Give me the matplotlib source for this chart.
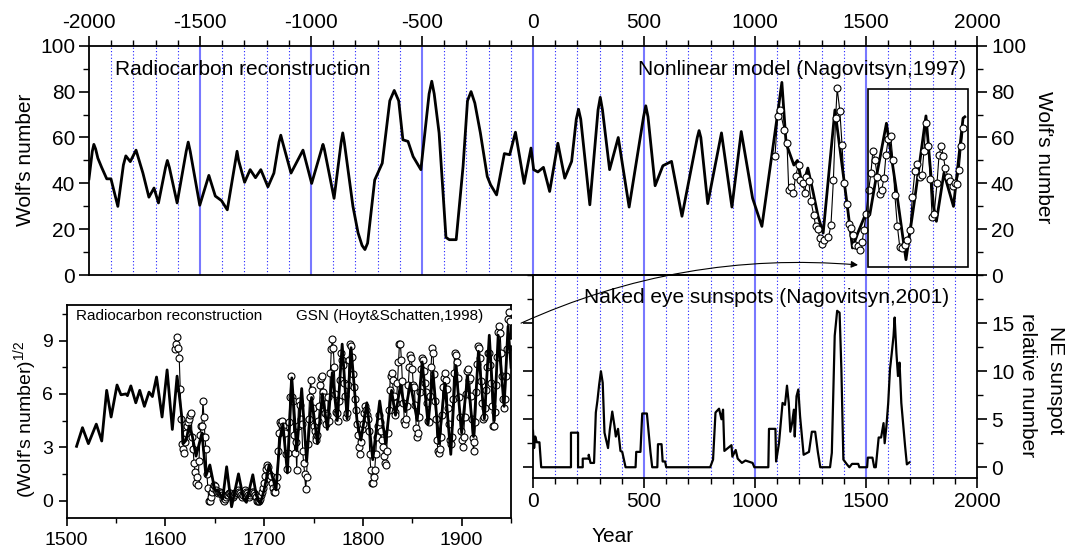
import matplotlib
matplotlib.use("Agg")
import matplotlib.pyplot as plt
from matplotlib.ticker import MultipleLocator
from matplotlib.patches import Rectangle, ConnectionPatch

plt.rcParams['font.family'] = ['Liberation Sans', 'DejaVu Sans']
plt.rcParams['mathtext.fontset'] = 'custom'
plt.rcParams['mathtext.rm'] = 'Liberation Sans'
plt.rcParams['axes.unicode_minus'] = False

# ---- top panel: radiocarbon reconstruction of Wolf's number
rc_years = [-2000, -1985, -1978, -1970, -1960, -1943, -1920, -1901, -1870, -1845, -1834, -1814, -1788,
            -1757, -1730, -1707, -1687, -1655, -1647, -1638, -1603, -1562, -1553, -1544, -1501, -1460, -1431,
            -1403, -1377, -1340, -1333, -1326, -1299, -1274, -1250, -1226, -1194, -1167, -1144, -1136, -1128,
            -1090, -1036, -997, -952, -946, -940, -896, -864, -857, -850, -811, -788, -770, -757, -745, -713,
            -679, -645, -625, -605, -586, -563, -540, -505, -468, -456, -445, -423, -392, -377,
            -346, -315, -295, -279, -262, -237, -206, -191, -164, -129, -105, -79,
            -40, -9, 3, 22, 47, 75, 112, 143, 174, 195, 205, 215,
            256, 293, 303, 313, 345, 384, 433, 498, 508, 518, 550, 585, 624, 671,
            740, 748, 756, 787, 849, 896, 938, 989, 1031, 1098, 1121, 1140,
            1175, 1191, 1214, 1238, 1261, 1284, 1307, 1360, 1416, 1439,
            1463, 1494, 1517, 1540, 1592, 1634, 1680, 1719, 1770, 1804,
            1817, 1851, 1894, 1937, 1945]
rc_wolf = [42, 54, 57, 55, 51, 47, 42, 42, 30, 48, 52, 49.5, 54.5,
           44.5, 34, 38, 31.5, 47, 50, 47, 31.5, 54, 58, 54, 30.5, 43.5, 34.5,
           32.5, 28.5, 50, 54, 50, 40.5, 46, 42.5, 46, 38.5, 44.5, 58, 61, 58,
           44.5, 54.5, 40, 55, 57, 55, 33.5, 58, 62, 58, 30, 18.5, 13, 11.2, 14, 41.5,
           48.8, 76, 80.5, 76, 59, 58.3, 51.7, 46, 79, 84.5, 79, 62, 16.5, 15.5,
           15.5, 47.4, 76, 80, 75, 62, 43, 39.4, 35, 53, 52.5, 62.3,
           40, 55.4, 46, 45, 47, 36.5, 57.5, 42.3, 49.6, 68, 72.3, 68,
           30.7, 72, 77.5, 72, 46, 60, 29.7, 69, 73.8, 69, 39, 47.7, 49.6, 25.7,
           60, 63, 60, 31.2, 62, 29.7, 62.6, 33.6, 21.3, 67.7, 84, 57.5,
           48, 50, 38.7, 46.7, 36.5, 25.7, 18.4, 72, 30, 11.9,
           18.4, 25.7, 26.4, 39.4, 66.2, 38.7, 6.8, 32.9, 69.4, 30,
           23.5, 44.5, 30, 68.4, 69]

# nonlinear model (Nagovitsyn, 1997)
nl_years = [1090, 1102, 1112, 1132, 1144, 1152, 1163, 1172, 1183, 1196,
            1203, 1214, 1225, 1231, 1242, 1252, 1264, 1273, 1283, 1292,
            1301, 1312, 1331, 1342, 1353, 1363, 1370, 1382, 1392, 1401,
            1413, 1424, 1432, 1441, 1450, 1463, 1474, 1482, 1491, 1500,
            1512, 1522, 1531, 1540, 1551, 1561, 1570, 1581, 1590, 1600,
            1611, 1621, 1630, 1641, 1652, 1661, 1675, 1686, 1698, 1709,
            1720, 1729, 1742, 1752, 1761, 1770, 1781, 1789, 1798, 1807,
            1820, 1829, 1839, 1848, 1857, 1869, 1879, 1890, 1899, 1908,
            1919, 1929, 1938]
nl_wolf = [52, 69.4, 72, 63.3, 57.8, 37, 38.4, 35.8, 43.3, 48.1,
           41.6, 40.4, 35.8, 43, 40.9, 32.2, 26.4, 21.3, 20.1, 16.2,
           13.8, 15.5, 16.7, 21.7, 41.3, 68.3, 81.4, 71.7, 56.8, 40.4,
           31.2, 22.5, 20.6, 17.7, 13, 12.6, 10.9, 14.3, 19.9, 26.7,
           37, 44.5, 54.3, 50.3, 43, 35.5, 37, 42.3, 52.5, 59.3,
           60.7, 50.3, 34.8, 21.6, 12.3, 11.9, 13.3, 15.5, 19.9, 34.3,
           45.2, 48.6, 43, 43.8, 54.2, 66.5, 56.5, 42, 25.4, 26.7,
           40.4, 52.5, 56.5, 52, 46.7, 43, 40.9, 39, 40, 39.9,
           45.7, 56.4, 64]

# ---- bottom right: naked eye sunspots (Nagovitsyn, 2001)
ne_years = [0, 5, 10, 17, 29, 37, 171, 171, 203, 203, 224, 224, 251, 251, 259, 275,
            283, 290, 298, 306, 314, 322, 338, 346, 357, 367, 373, 383, 394, 402,
            417, 462, 465, 484, 492, 513, 529, 537, 560, 563, 579, 584, 595, 600,
            798, 811, 822, 838, 849, 856, 862, 894, 898, 913, 922, 941, 957, 989,
            997, 1060, 1063, 1092, 1095, 1108, 1124, 1135, 1144, 1152, 1159, 1167,
            1175, 1179, 1187, 1195, 1203, 1219, 1243, 1256, 1271, 1283, 1294, 1338,
            1346, 1359, 1370, 1381, 1389, 1398, 1414, 1425, 1437, 1465, 1470, 1505,
            1508, 1529, 1537, 1544, 1557, 1568, 1579, 1584, 1592, 1600, 1608, 1616,
            1624, 1629, 1637, 1644, 1651, 1659, 1668, 1676, 1684, 1695]
ne_number = [3.8, 2, 3.2, 2.6, 2.6, 0, 0, 3.6, 3.6, 0, 0, 0.9, 0.9, 1.3, 0.45, 0.45,
             5.7, 6.9, 8.6, 10, 8.8, 3.6, 2, 3.9, 5.8, 4.3, 3.2, 4, 1.7, 1.6,
             0, 0, 1.6, 1.6, 5.6, 5.6, 1.6, 0, 0, 2.4, 2.4, 0.6, 0.6, 0,
             0, 0.8, 5.7, 6.1, 5, 6, 1.7, 2.3, 1.1, 1.8, 0.9, 0.45, 0.7, 0.45,
             0, 0, 4, 4, 0.6, 2.5, 6.7, 6.5, 8.5, 6.7, 3.7, 4.6,
             6, 3.2, 7.4, 8.1, 5.3, 1.3, 1.6, 3.7, 3.7, 1.6, 0, 0,
             1.5, 13.7, 16.3, 16.1, 10.2, 0.8, 0.3, 0, 0.35, 0.35, 0, 0,
             1, 1, 0, 0, 3.1, 3.1, 4.6, 2.5, 4.3, 6.7, 10.2, 11.9,
             13.7, 15.6, 11.9, 9.5, 10.9, 6.7, 4.3, 2.2, 0.3, 0.5]

# ---- inset: sqrt(Wolf's number), radiocarbon vs group sunspot number
rc_sq_years = [1510, 1516, 1522, 1530, 1535.5, 1540.5, 1545, 1551, 1555, 1560,
               1561.5, 1565, 1570, 1574, 1578.7, 1583.4, 1586.8, 1591, 1596.6, 1601.7,
               1607, 1611.8, 1616.6, 1618, 1621, 1624, 1627, 1631, 1637, 1641,
               1645, 1650, 1654, 1658, 1662, 1667, 1674, 1679, 1682, 1688.5,
               1692, 1696, 1700, 1705, 1709, 1712, 1716, 1719, 1723.5, 1728,
               1733, 1738, 1743, 1748, 1754, 1759, 1764, 1769, 1774, 1779,
               1784, 1788, 1794, 1798, 1804, 1810, 1817, 1823, 1829, 1833,
               1838, 1843, 1848, 1855, 1860, 1866, 1871, 1877, 1883, 1889,
               1894, 1900, 1906, 1912, 1917, 1923, 1928, 1933, 1937, 1943,
               1947, 1950]
rc_sq = [3.05, 4.1, 3.2, 4.3, 3.35, 6.2, 4.7, 6.5, 5.95, 6.0,
         5.9, 6.45, 5.5, 6.2, 5.3, 6.1, 5.85, 6.95, 4.7, 7.35,
         4.0, 7.0, 4.7, 3.2, 3.4, 4.2, 3.7, 2.5, 3.8, 1.4,
         2.0, 0.6, 0.5, 0.1, 1.9, -0.35, 1.5, 0.1, -0.1, 1.45,
         0.3, -0.2, 0.6, 2.0, 1.2, 0.6, 3.5, 4.3, 1.55, 6.9,
         2.8, 6.3, 2.2, 5.8, 3.2, 6.0, 4.0, 7.2, 4.5, 8.8,
         4.6, 8.6, 4.5, 3.4, 5.5, 2.3, 5.6, 3.2, 6.2, 4.8,
         6.5, 5.0, 6.6, 4.5, 7.8, 4.3, 7.2, 3.2, 6.6, 2.6,
         7.6, 3.8, 7.0, 3.6, 8.4, 4.6, 9.3, 4.5, 9.3, 5.3,
         9.8, 7.5]

gsn_years = list(range(1610, 1951))
gsn_sq = [8.5, 8.8, 9.2, 8.6, 8.0, 6.3, 4.6, 3.2, 2.9, 2.7,
          3.3, 3.8, 4.2, 4.4, 4.6, 4.8, 4.9, 3.6, 2.9, 2.1,
          1.6, 1.0, 1.3, 0.9, 2.2, 3.7, 4.2, 4.2, 5.6, 4.7,
          3.6, 2.9, 1.5, 0.7, 0.0, 0.0, 0.2, 0.5, 0.7, 0.9,
          0.8, 0.6, 0.5, 0.4, 0.5, 0.5, 0.4, 0.3, 0.1, 0.0,
          0.1, 0.2, 0.3, 0.3, 0.4, 0.4, 0.3, 0.2, 0.2, 0.3,
          0.4, 0.5, 0.5, 0.4, 0.6, 0.5, 0.4, 0.3, 0.2, 0.3,
          0.5, 0.6, 0.5, 0.4, 0.3, 0.2, 0.3, 0.4, 0.5, 0.5,
          0.4, 0.3, 0.2, 0.0, 0.0, 0.0, 0.1, 0.3, 0.5, 0.7,
          1.0, 1.4, 1.8, 2.0, 1.9, 1.5, 1.2, 1.4, 1.0, 0.7,
          0.5, 0.5, 0.8, 1.3, 2.8, 3.8, 4.4, 4.3, 4.5, 4.2,
          3.9, 3.8, 2.6, 1.8, 2.7, 4.4, 5.8, 7.0, 5.8, 5.6,
          3.7, 2.7, 3.3, 1.7, 4.2, 5.6, 5.4, 4.6, 4.3, 2.8,
          2.1, 1.5, 0.65, 1.3, 3.2, 4.6, 5.8, 6.8, 6.2, 5.2,
          4.2, 3.9, 3.6, 3.4, 3.7, 4.5, 5.3, 6.5, 6.9, 7.0,
          6.1, 5.8, 4.9, 4.3, 4.8, 5.8, 4.5, 7.2, 8.5, 9.1,
          8.6, 7.5, 6.0, 5.0, 4.9, 4.5, 5.6, 6.8, 8.3, 7.9,
          7.6, 6.6, 5.9, 4.7, 4.9, 6.5, 7.9, 8.8, 8.7, 8.1,
          7.1, 6.4, 5.7, 5.1, 4.3, 3.7, 3.0, 2.6, 3.3, 4.0,
          4.3, 4.9, 5.3, 5.1, 4.8, 4.6, 3.9, 2.6, 1.7, 1.0,
          1.0, 1.3, 1.7, 2.6, 3.6, 4.2, 4.8, 4.4, 3.9, 3.4,
          3.0, 2.5, 2.1, 2.0, 2.8, 3.8, 5.1, 6.2, 7.0, 7.2,
          6.8, 5.9, 5.0, 4.8, 5.5, 6.6, 7.8, 8.8, 8.8, 7.9,
          6.7, 5.5, 4.5, 4.3, 4.6, 5.3, 6.5, 7.5, 8.2, 8.0,
          7.4, 6.5, 6.4, 5.4, 4.1, 3.6, 3.8, 4.7, 6.1, 7.4,
          8.0, 7.9, 7.3, 6.6, 6.1, 5.5, 4.5, 4.4, 5.9, 7.5,
          8.6, 8.3, 7.1, 5.6, 4.6, 3.4, 2.8, 2.7, 2.9, 3.6,
          4.8, 6.4, 6.9, 7.2, 6.8, 6.3, 5.2, 4.3, 3.4, 3.2,
          3.6, 5.7, 7.2, 8.3, 8.2, 7.8, 6.9, 5.8, 4.7, 3.9,
          3.4, 3.0, 3.6, 4.7, 6.0, 7.3, 7.4, 6.8, 6.9, 5.9,
          4.6, 3.5, 2.8, 3.3, 4.4, 6.1, 7.7, 8.7, 8.6, 8.0,
          6.7, 5.5, 4.6, 4.7, 5.2, 6.2, 7.5, 8.3, 8.3, 7.6,
          6.6, 5.3, 4.2, 4.2, 5.0, 6.5, 8.1, 9.5, 9.8, 9.4,
          8.3, 7.0, 5.7, 5.2, 5.7, 7.0, 8.5, 10.2, 10.6, 10.1,
          8.9]

grid_solid = '#7878ff'
grid_dot = '#2020ff'

fig = plt.figure(figsize=(10.72, 5.5), dpi=100)
ax_top = fig.add_axes([0.0830, 0.4995, 0.8284, 0.4175])
ax_bot = fig.add_axes([0.4972, 0.1304, 0.4142, 0.3691])
ax_in = fig.add_axes([0.0622, 0.0576, 0.4145, 0.3878])


def year_lines(ax, years):
    for yr in years:
        if yr % 500 == 0:
            ax.axvline(yr, color=grid_solid, lw=1.5, zorder=1)
        else:
            ax.axvline(yr, color=grid_dot, lw=0.8, ls=(0, (1, 2)), zorder=1)


# top panel
year_lines(ax_top, range(-1900, 2000, 100))
ax_top.plot(rc_years, rc_wolf, color='black', lw=2, zorder=3, solid_joinstyle='round')
ax_top.plot(nl_years, nl_wolf, color='black', lw=0.8, marker='o', ms=5,
            mfc='white', mec='black', mew=0.8, zorder=4)
ax_top.add_patch(Rectangle((1510, 3.5), 450, 77.5, fill=False, ec='black', lw=1.2, zorder=5))
ax_top.set_xlim(-2000, 2000)
ax_top.set_ylim(0, 100)
ax_top.xaxis.set_major_locator(MultipleLocator(500))
ax_top.xaxis.set_minor_locator(MultipleLocator(100))
ax_top.yaxis.set_major_locator(MultipleLocator(20))
ax_top.yaxis.set_minor_locator(MultipleLocator(10))
ax_top.tick_params(axis='x', which='both', top=True, bottom=False, labeltop=True,
                   labelbottom=False, direction='out')
ax_top.tick_params(axis='y', which='both', left=True, right=True, labelleft=True,
                   labelright=True, direction='out')
ax_top.tick_params(which='major', length=7, width=1.2, labelsize=15, pad=3)
ax_top.tick_params(which='minor', length=4, width=1.0)
ax_top.text(-1883, 89.4, 'Radiocarbon reconstruction', fontsize=15, va='center', ha='left')
ax_top.text(1950, 89.4, 'Nonlinear model (Nagovitsyn,1997)', fontsize=15, va='center', ha='right')

# bottom right panel
ax_bot.set_facecolor('none')
year_lines(ax_bot, range(100, 2000, 100))
ax_bot.plot(ne_years, ne_number, color='black', lw=1.6, zorder=3, solid_joinstyle='round')
ax_bot.set_xlim(0, 2000)
ax_bot.set_ylim(-1.15, 20)
ax_bot.xaxis.set_major_locator(MultipleLocator(500))
ax_bot.xaxis.set_minor_locator(MultipleLocator(100))
ax_bot.yaxis.set_major_locator(MultipleLocator(5))
ax_bot.yaxis.set_minor_locator(MultipleLocator(2.5))
ax_bot.set_yticks([0, 5, 10, 15])
ax_bot.tick_params(axis='x', which='both', top=False, bottom=True, direction='out')
ax_bot.tick_params(axis='y', which='both', left=True, right=True, labelleft=False,
                   labelright=True, direction='out')
ax_bot.tick_params(which='major', length=7, width=1.2, labelsize=15, pad=3)
ax_bot.tick_params(which='minor', length=4, width=1.0)
ax_bot.text(1874, 17.7, 'Naked eye sunspots (Nagovitsyn,2001)', fontsize=15, va='center', ha='right')

# inset
ax_in.plot(gsn_years, gsn_sq, color='black', lw=0.8, marker='o', ms=5,
           mfc='white', mec='black', mew=0.8, zorder=3)
ax_in.plot(rc_sq_years, rc_sq, color='black', lw=2, zorder=4, solid_joinstyle='round')
ax_in.set_xlim(1500, 1950)
ax_in.set_ylim(-1, 11)
ax_in.xaxis.set_major_locator(MultipleLocator(100))
ax_in.xaxis.set_minor_locator(MultipleLocator(50))
ax_in.yaxis.set_major_locator(MultipleLocator(3))
ax_in.yaxis.set_minor_locator(MultipleLocator(1.5))
ax_in.tick_params(which='both', direction='out', top=False, right=False)
ax_in.tick_params(which='major', length=6, width=1.2, labelsize=14, pad=4)
ax_in.tick_params(which='minor', length=3.5, width=1.0)
ax_in.text(1509, 10.36, 'Radiocarbon reconstruction', fontsize=11, va='center', ha='left')
ax_in.text(1732, 10.36, 'GSN (Hoyt&Schatten,1998)', fontsize=11, va='center', ha='left')

for ax in (ax_top, ax_bot, ax_in):
    for s in ax.spines.values():
        s.set_linewidth(1.3)

# axis titles
fig.text(26 / 1072, 1 - 160 / 550, "Wolf's number", fontsize=15, rotation=90, ha='center', va='center')
fig.text(1043 / 1072, 1 - 157 / 550, "Wolf's number", fontsize=15, rotation=270, ha='center', va='center')
fig.text(1055 / 1072, 1 - 380 / 550, 'NE sunspot', fontsize=15, rotation=270, ha='center', va='center')
fig.text(1027 / 1072, 1 - 385 / 550, 'relative number', fontsize=15, rotation=270, ha='center', va='center')
fig.text(26 / 1072, 1 - 419 / 550, "(Wolf's number)$^{1/2}$", fontsize=14, rotation=90, ha='center', va='center')
fig.text(613 / 1072, 1 - 537 / 550, 'Year', fontsize=15, ha='center', va='center')

# arrow from inset to the boxed part of the top panel
con = ConnectionPatch(xyA=(1.0225, 0.915), coordsA=ax_in.transAxes,
                      xyB=(1464, 4.5), coordsB=ax_top.transData,
                      arrowstyle='-|>', color='black', lw=0.8, mutation_scale=10,
                      connectionstyle='arc3,rad=-0.13', shrinkA=0, shrinkB=0)
fig.add_artist(con)

fig.savefig('out.png', dpi=100)
